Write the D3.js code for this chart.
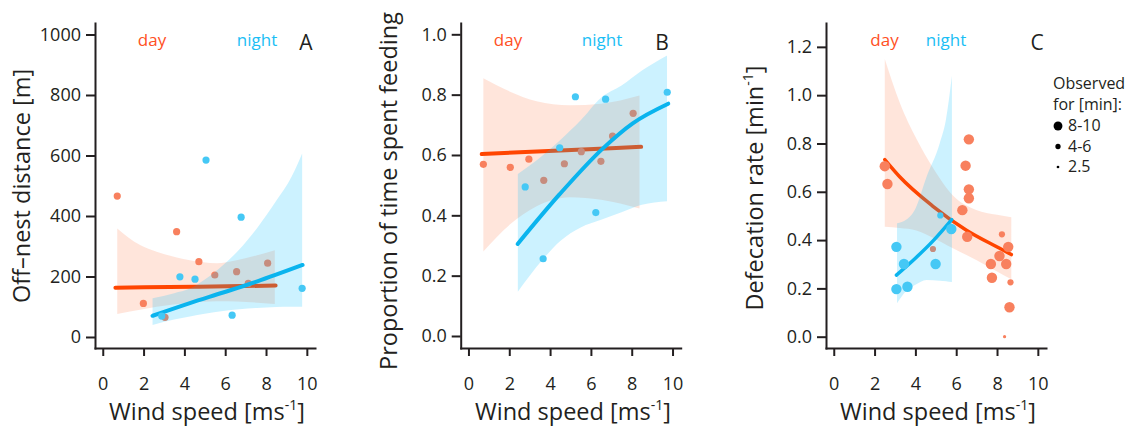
<!DOCTYPE html>
<html>
<head>
<meta charset="utf-8">
<script src="https://cdn.jsdelivr.net/npm/d3@7"></script>
<style>
  body { margin: 0; background: #fff; }
  svg text { font-family: "Open Sans", sans-serif; fill: #231f20; }
</style>
</head>
<body>
<svg id="chart" width="1136" height="436"></svg>
<script>
// ---- data ----
const windTicks = [0, 2, 4, 6, 8, 10];
const distTicks = [0, 200, 400, 600, 800, 1000];
const propTicks = [0, 0.2, 0.4, 0.6, 0.8, 1.0];
const rateTicks = [0, 0.2, 0.4, 0.6, 0.8, 1.0, 1.2];

// A: off-nest distance [x, y]
const aDayPts = [[0.71, 466], [1.99, 111], [3.62, 348], [4.71, 249], [5.49, 205],
                 [6.56, 216], [7.13, 177], [8.08, 244], [3.05, 65]];
const aNightPts = [[5.06, 585], [6.78, 396], [3.78, 199], [4.52, 191], [9.77, 161],
                   [6.34, 72], [2.89, 69]];
const aDayFit = [[0.62, 163], [4.5, 166], [8.47, 170]];
const aNightFit = [[2.44, 70], [4.27, 112], [5.9, 147], [7.54, 183], [9.79, 238]];
// bands: [x, lower, upper]
const aDayBand = [[0.71, 76, 359], [1.83, 90, 304], [2.64, 100, 282], [4.27, 113, 254],
                  [5.58, 118, 244], [6.56, 117, 254], [8.43, 109, 287]];
const aNightBand = [[2.44, 40, 128], [3.5, 58, 145], [4.27, 68, 160], [5.0, 77, 190],
                    [5.9, 86, 238], [6.7, 92, 290], [7.55, 96, 359], [8.5, 99, 450],
                    [9.25, 100, 530], [9.77, 100, 607]];

// B: proportion of time spent feeding
const bDayPts = [[0.73, 0.569], [2.05, 0.559], [2.96, 0.586], [3.69, 0.516], [4.70, 0.571],
                 [5.53, 0.611], [6.49, 0.579], [7.06, 0.663], [8.07, 0.738]];
const bNightPts = [[5.24, 0.793], [6.72, 0.785], [9.74, 0.808], [4.47, 0.624], [2.78, 0.494],
                   [6.24, 0.409], [3.66, 0.256]];
const bDayFit = [[0.65, 0.603], [4.5, 0.615], [8.46, 0.627]];
const bNightFit = [[2.41, 0.305], [4.47, 0.47], [6.59, 0.622], [8.05, 0.705], [9.79, 0.77]];
const bDayBand = [[0.73, 0.28, 0.854], [2.04, 0.37, 0.81], [3.34, 0.43, 0.778],
                  [4.96, 0.46, 0.765], [6.5, 0.452, 0.77], [8.38, 0.423, 0.797]];
const bNightBand = [[2.42, 0.147, 0.537], [3.0, 0.2, 0.565], [3.66, 0.255, 0.6],
                    [4.5, 0.315, 0.65], [5.5, 0.36, 0.715], [6.5, 0.385, 0.79],
                    [7.5, 0.41, 0.83], [8.5, 0.435, 0.88], [9.73, 0.447, 0.93]];

// C: defecation rate, [x, y, minutes observed]
const cDayPts = [[2.50, 0.706, 10], [2.63, 0.632, 10], [6.62, 0.817, 10], [6.46, 0.708, 10],
                 [6.62, 0.610, 10], [6.62, 0.573, 10], [6.30, 0.524, 10], [6.54, 0.414, 10],
                 [8.24, 0.424, 5], [8.55, 0.372, 10], [8.12, 0.334, 10], [7.70, 0.301, 10],
                 [8.45, 0.301, 10], [7.75, 0.244, 10], [8.66, 0.225, 5], [8.61, 0.122, 10],
                 [8.37, 0.0, 2.5], [4.86, 0.363, 5]];
const cNightPts = [[3.07, 0.372, 10], [3.44, 0.301, 10], [3.07, 0.197, 10], [3.61, 0.207, 10],
                   [4.99, 0.301, 10], [5.22, 0.502, 5], [5.76, 0.446, 10]];
const cDayFit = [[2.5, 0.733], [3.23, 0.662], [4.86, 0.54], [6.5, 0.441], [8.13, 0.366], [8.7, 0.34]];
const cNightFit = [[3.07, 0.255], [4.0, 0.325], [4.9, 0.4], [5.78, 0.485]];
const cDayBand = [[2.5, 0.455, 1.15], [3.23, 0.45, 0.97], [4.05, 0.44, 0.82], [4.86, 0.41, 0.70],
                  [5.84, 0.366, 0.585], [6.98, 0.318, 0.525], [8.0, 0.27, 0.505], [8.7, 0.238, 0.495]];
const cNightBand = [[3.1, 0.138, 0.47], [3.56, 0.19, 0.485], [4.0, 0.215, 0.53], [4.54, 0.235, 0.66],
                    [5.19, 0.232, 0.8], [5.5, 0.23, 0.9], [5.79, 0.226, 1.08]];

const obsLevels = [10, 5, 2.5];
const obsLabels = ["8-10", "4-6", "2.5"];

// ---- drawing ----
const col = {
    dayLine: "#ff4500", dayPt: "#f8805e", dayBand: "#ff4500", dayText: "#ff5024",
    nightLine: "#0ab4ee", nightPt: "#45c8f5", nightBand: "#00bfff", nightText: "#1abef5"
};
const rObs = d3.scaleOrdinal().domain(obsLevels).range([5.2, 3.1, 1.6]);
const titleSize = 23.5;

const svg = d3.select("#chart");

const panels = [
    { letter: "A", left: 95, yDomain: [-36.4, 1038], ticks: distTicks, fmt: d3.format("d"),
      yTitle: ["Off\u2013nest distance [m]"], titleX: 30, titleY: 186, xTitleX: 207,
      labels: [152, 257, 306], day: aDayPts, night: aNightPts, dayFit: aDayFit, nightFit: aNightFit,
      dayBand: aDayBand, nightBand: aNightBand, lw: 4 },
    { letter: "B", left: 460.7, yDomain: [-0.0398, 1.0375], ticks: propTicks, fmt: d3.format(".1f"),
      yTitle: ["Proportion of time spent feeding"], titleX: 397, titleY: 191, xTitleX: 573,
      labels: [508, 602, 662], day: bDayPts, night: bNightPts, dayFit: bDayFit, nightFit: bNightFit,
      dayBand: bDayBand, nightBand: bNightBand, lw: 4 },
    { letter: "C", left: 826, yDomain: [-0.0468, 1.2988], ticks: rateTicks, fmt: d3.format(".1f"),
      yTitle: ["Defecation rate [min", "-1", "]"], titleX: 763, titleY: 188, xTitleX: 938,
      labels: [884.5, 946, 1037], day: cDayPts, night: cNightPts, dayFit: cDayFit, nightFit: cNightFit,
      dayBand: cDayBand, nightBand: cNightBand, lw: 3.5 }
];

function supText(sel, parts, size) {
    // parts: [main, superscript, rest]
    sel.append("tspan").text(parts[0]);
    if (parts.length > 1) {
        sel.append("tspan").attr("dy", -size * 0.42).attr("font-size", size * 0.6).text(parts[1]);
        sel.append("tspan").attr("dy", size * 0.42).text(parts[2]);
    }
}

panels.forEach(p => {
    const x = d3.scaleLinear().domain([-0.38, 10.4]).range([p.left, p.left + 220]);
    const y = d3.scaleLinear().domain(p.yDomain).range([348, 23]);
    const g = svg.append("g");

    const area = d3.area().x(d => x(d[0])).y0(d => y(d[1])).y1(d => y(d[2])).curve(d3.curveMonotoneX);
    const line = d3.line().x(d => x(d[0])).y(d => y(d[1])).curve(d3.curveMonotoneX);
    const rad = d => d.length > 2 ? rObs(d[2]) : 3.6;

    // day: band, fit, points
    g.append("path").attr("d", area(p.dayBand)).attr("fill", col.dayBand).attr("fill-opacity", 0.14);
    g.append("path").attr("d", line(p.dayFit)).attr("fill", "none")
        .attr("stroke", col.dayLine).attr("stroke-width", p.lw).attr("stroke-linecap", "round");
    g.selectAll(".dp").data(p.day).join("circle")
        .attr("cx", d => x(d[0])).attr("cy", d => y(d[1])).attr("r", rad).attr("fill", col.dayPt);

    // night goes on top, its band tints the day marks
    g.append("path").attr("d", area(p.nightBand)).attr("fill", col.nightBand).attr("fill-opacity", 0.2);
    g.append("path").attr("d", line(p.nightFit)).attr("fill", "none")
        .attr("stroke", col.nightLine).attr("stroke-width", p.lw).attr("stroke-linecap", "round");
    g.selectAll(".np").data(p.night).join("circle")
        .attr("cx", d => x(d[0])).attr("cy", d => y(d[1])).attr("r", rad).attr("fill", col.nightPt);

    // axes
    const ya = g.append("g").attr("transform", `translate(${p.left},0)`)
        .call(d3.axisLeft(y).tickValues(p.ticks).tickFormat(p.fmt).tickSize(9).tickPadding(5).tickSizeOuter(0));
    const xa = g.append("g").attr("transform", "translate(0,348)")
        .call(d3.axisBottom(x).tickValues(windTicks).tickSize(8).tickPadding(21).tickSizeOuter(0));
    [ya, xa].forEach(a => {
        a.selectAll("path, line").attr("stroke", "#231f20").attr("stroke-width", 2);
        a.select(".domain").attr("stroke-linecap", "square");
        a.selectAll("text").attr("font-size", 18).attr("fill", "#231f20").attr("font-family", "Open Sans");
    });

    // axis titles
    const xt = g.append("text").attr("x", p.xTitleX).attr("y", 420)
        .attr("text-anchor", "middle").attr("font-size", titleSize);
    supText(xt, ["Wind speed [ms", "-1", "]"], titleSize);
    const yt = g.append("text").attr("transform", `translate(${p.titleX},${p.titleY}) rotate(-90)`)
        .attr("text-anchor", "middle").attr("font-size", titleSize);
    supText(yt, p.yTitle, titleSize);

    // day / night labels and panel letter
    g.append("text").attr("x", p.labels[0]).attr("y", 46).attr("text-anchor", "middle")
        .attr("font-size", 17).style("fill", col.dayText).text("day");
    g.append("text").attr("x", p.labels[1]).attr("y", 46).attr("text-anchor", "middle")
        .attr("font-size", 17).style("fill", col.nightText).text("night");
    g.append("text").attr("x", p.labels[2]).attr("y", 50).attr("text-anchor", "middle")
        .attr("font-size", 21).text(p.letter);
});

// legend for observation time
const leg = svg.append("g");
leg.append("text").attr("x", 1053).attr("y", 89).attr("font-size", 16).text("Observed");
leg.append("text").attr("x", 1053).attr("y", 110).attr("font-size", 16).text("for [min]:");
const legY = d3.scalePoint().domain(obsLevels).range([126, 167]);
leg.selectAll("circle").data(obsLevels).join("circle")
    .attr("cx", 1058).attr("cy", d => legY(d)).attr("r", d => rObs(d) * 0.85).attr("fill", "#000");
leg.selectAll(".ll").data(obsLevels).join("text")
    .attr("x", 1068).attr("y", d => legY(d) + 5).attr("font-size", 16)
    .text((d, i) => obsLabels[i]);
</script>
</body>
</html>
